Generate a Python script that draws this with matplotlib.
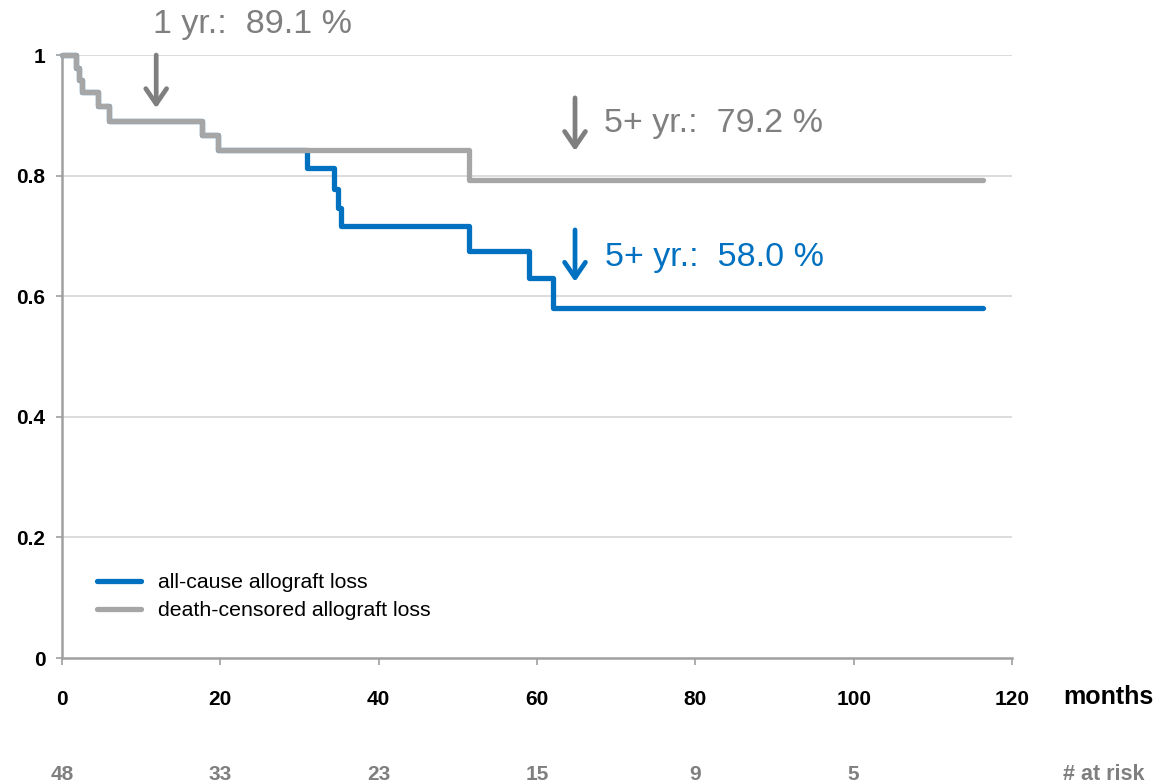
import matplotlib
matplotlib.use("Agg")
import matplotlib.pyplot as plt
from matplotlib.lines import Line2D
from matplotlib import font_manager

plt.rcParams['font.family'] = ['Liberation Sans', 'DejaVu Sans']

# Kaplan-Meier estimates (months, survival)
dc_months = [0, 1.8, 2.2, 2.5, 4.6, 6.0, 17.7, 19.7, 51.4, 116.3]
dc_surv = [1.0, 0.979, 0.958, 0.938, 0.915, 0.891, 0.867, 0.842, 0.792, 0.792]

ac_months = [0, 1.8, 2.2, 2.5, 4.6, 6.0, 17.7, 19.7, 31.0, 34.4, 34.9, 35.2,
             51.4, 59.0, 62.0, 116.3]
ac_surv = [1.0, 0.979, 0.958, 0.938, 0.915, 0.891, 0.867, 0.842, 0.813, 0.778,
           0.746, 0.716, 0.675, 0.630, 0.580, 0.580]

risk_months = [0, 20, 40, 60, 80, 100]
at_risk = [48, 33, 23, 15, 9, 5]

x_ticks = [0, 20, 40, 60, 80, 100, 120]
y_ticks = [0, 0.2, 0.4, 0.6, 0.8, 1.0]
y_labels = ['0', '0.2', '0.4', '0.6', '0.8', '1']

BLUE = '#0070c0'
GRAY = '#a6a6a6'
DARK = '#7f7f7f'
AXIS = '#a0a0a0'

# narrow bold face for the axis numbers, if available
names = {f.name for f in font_manager.fontManager.ttflist}
if 'Liberation Sans Narrow' in names:
    NUM_FONT, NUM_SIZE = 'Liberation Sans Narrow', 17
else:
    NUM_FONT, NUM_SIZE = 'Liberation Sans', 15

fig = plt.figure(figsize=(11.63, 7.84), dpi=100)
ax = fig.add_axes([0.0533, 0.1607, 0.8169, 0.7691])

for y in y_ticks[1:]:
    ax.axhline(y, color='#d9d9d9', lw=1.3, zorder=0)

ax.step(ac_months, ac_surv, where='post', color=BLUE, lw=3.8,
        solid_capstyle='round', clip_on=False, zorder=3)
ax.step(dc_months, dc_surv, where='post', color=GRAY, lw=3.8,
        solid_capstyle='round', clip_on=False, zorder=4)

ax.set_xlim(0, 120)
ax.set_ylim(0, 1)
ax.set_xticks(x_ticks)
ax.set_xticklabels([str(t) for t in x_ticks])
ax.set_yticks(y_ticks)
ax.set_yticklabels(y_labels)

for side in ['top', 'right']:
    ax.spines[side].set_visible(False)
for side in ['left', 'bottom']:
    ax.spines[side].set_color(AXIS)
    ax.spines[side].set_linewidth(1.8)

ax.tick_params(axis='y', length=4, width=1.2, color=AXIS, pad=8)
ax.tick_params(axis='x', length=5, width=1.2, color=AXIS, pad=18)
for lab in ax.get_xticklabels() + ax.get_yticklabels():
    lab.set_fontweight('bold')
    lab.set_fontfamily(NUM_FONT)
    lab.set_fontsize(NUM_SIZE)

ax.text(1.0537, -0.064, 'months', transform=ax.transAxes, ha='left',
        va='center', fontsize=18, fontweight='bold')

for m, n in zip(risk_months, at_risk):
    ax.text(m, -0.194, str(n), transform=ax.get_xaxis_transform(),
            ha='center', va='center', fontsize=NUM_SIZE, fontweight='bold',
            family=NUM_FONT, color=DARK)
ax.text(1.0537, -0.194, '# at risk', transform=ax.transAxes, ha='left',
        va='center', fontsize=15.5, fontweight='bold', color=DARK)

# survival rate call-outs
arrow = '->,head_length=1.1,head_width=0.75'
ax.annotate('', xy=(11.9, 0.912), xytext=(11.9, 1.0),
            arrowprops=dict(arrowstyle=arrow, color=DARK, lw=3.4,
                            shrinkA=0, shrinkB=0), annotation_clip=False)
ax.text(11.5, 1.051, '1 yr.:  89.1 %', ha='left', va='center',
        fontsize=24.5, color=DARK, clip_on=False)

ax.annotate('', xy=(64.8, 0.841), xytext=(64.8, 0.929),
            arrowprops=dict(arrowstyle=arrow, color=DARK, lw=3.4,
                            shrinkA=0, shrinkB=0))
ax.text(68.5, 0.887, '5+ yr.:  79.2 %', ha='left', va='center',
        fontsize=24.5, color=DARK)

ax.annotate('', xy=(64.8, 0.624), xytext=(64.8, 0.710),
            arrowprops=dict(arrowstyle=arrow, color=BLUE, lw=3.4,
                            shrinkA=0, shrinkB=0))
ax.text(68.6, 0.665, '5+ yr.:  58.0 %', ha='left', va='center',
        fontsize=24.5, color=BLUE)

handles = [Line2D([], [], color=BLUE, lw=3.8, solid_capstyle='round'),
           Line2D([], [], color=GRAY, lw=3.8, solid_capstyle='round')]
ax.legend(handles, ['all-cause allograft loss', 'death-censored allograft loss'],
          loc='lower left', bbox_to_anchor=(0.037, 0.063), frameon=False,
          fontsize=15.3, handlelength=2.05, handletextpad=0.8,
          labelspacing=0.42, borderpad=0, borderaxespad=0)

fig.savefig('out.png', dpi=100)
